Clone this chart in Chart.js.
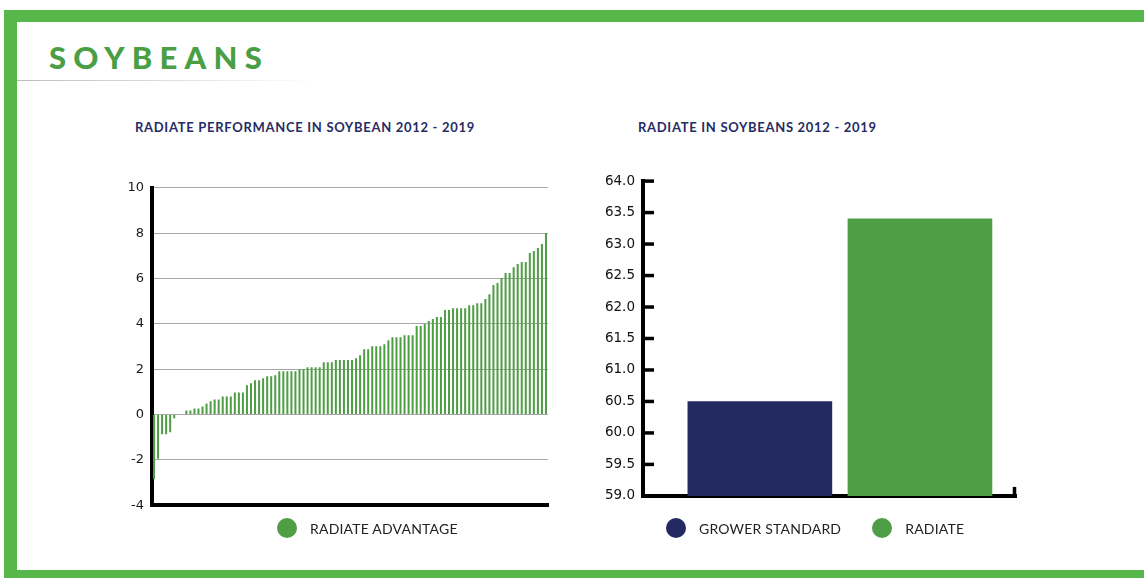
<!DOCTYPE html>
<html>
<head>
<meta charset="utf-8">
<script src="https://cdn.jsdelivr.net/npm/chart.js@4/dist/chart.umd.min.js"></script>
<style>
  html, body { margin: 0; padding: 0; background: #fff; }
  body { width: 1144px; height: 578px; position: relative; overflow: hidden; }
  .frame {
    position: absolute; left: 4px; top: 10px; width: 1127px; height: 548px;
    border-style: solid; border-color: #58b74b;
    border-width: 12px 2px 8px 13px;
  }
  .heading {
    position: absolute; left: 49px; top: 38px;
    font: 900 31px Lato, sans-serif; letter-spacing: 7.2px; color: #4a9f45;
  }
  .rule {
    position: absolute; left: 17px; top: 80px; width: 300px; height: 1px;
    background: linear-gradient(to right, #bdbdbd, rgba(255,255,255,0));
  }
  .title {
    position: absolute; font: bold 13px Lato, sans-serif; letter-spacing: 0.7px; color: #262c63;
  }
  .legend {
    position: absolute; top: 518px; display: flex; align-items: center;
    font: 14px Lato, sans-serif; letter-spacing: 0.2px; color: #222;
  }
  .legend .item { display: flex; align-items: center; margin-right: 31px; }
  .legend .dot { width: 20px; height: 20px; border-radius: 50%; margin-right: 13px; }
  canvas { position: absolute; }
</style>
</head>
<body>
<div class="frame"></div>
<div class="heading">SOYBEANS</div>
<div class="rule"></div>
<div class="title" style="left:135px; top:119px;">RADIATE PERFORMANCE IN SOYBEAN 2012 - 2019</div>
<div class="title" style="left:638px; top:119px;">RADIATE IN SOYBEANS 2012 - 2019</div>

<div style="position:absolute; left:100px; top:172px; width:460px; height:349px;">
  <canvas id="advantageChart"></canvas>
</div>
<div style="position:absolute; left:580px; top:165px; width:450px; height:347px;">
  <canvas id="averageChart"></canvas>
</div>
<div class="legend" id="advantageLegend" style="left:277px;"></div>
<div class="legend" id="averageLegend" style="left:666px;"></div>

<script>
// left chart: yield advantage per trial, sorted
const advantage = [
  -2.85, -1.95, -0.87, -0.87, -0.78, -0.16, 0, 0,
  0.18, 0.18, 0.27, 0.27, 0.35, 0.49, 0.58, 0.66, 0.66, 0.80, 0.80, 0.80, 0.97, 0.97, 0.97,
  1.29, 1.38, 1.51, 1.51, 1.60, 1.69, 1.69, 1.73, 1.91, 1.91, 1.91, 1.91, 1.91, 2.0, 2.0,
  2.09, 2.09, 2.09, 2.09, 2.31, 2.31, 2.31, 2.4, 2.4, 2.4,
  2.4, 2.4, 2.48, 2.61, 2.88, 2.88, 3.01, 3.01, 3.01, 3.10, 3.28, 3.41, 3.41, 3.41,
  3.50, 3.50, 3.50, 3.90, 3.90, 3.99, 4.12, 4.21, 4.30, 4.30, 4.61, 4.61,
  4.69, 4.69, 4.69, 4.69, 4.82, 4.82, 4.91, 4.91, 5.09, 5.31, 5.71, 5.80, 6.02,
  6.24, 6.24, 6.50, 6.64, 6.73, 6.73, 7.12, 7.21, 7.35, 7.52, 8.01
];
const advantageLabel = 'RADIATE ADVANTAGE';
const advantageColor = '#4f9e46';

// right chart: average yield
const treatments = ['GROWER STANDARD', 'RADIATE'];
const averages = [60.5, 63.4];
const treatmentColors = ['#222a61', '#4f9e46'];

function buildLegend(id, names, colors) {
  const box = document.getElementById(id);
  names.forEach(function (name, i) {
    const item = document.createElement('div');
    item.className = 'item';
    item.innerHTML = '<span class="dot" style="background:' + colors[i] + '"></span><span>' + name + '</span>';
    box.appendChild(item);
  });
}
buildLegend('advantageLegend', [advantageLabel], [advantageColor]);
buildLegend('averageLegend', treatments, treatmentColors);

// inside tick marks for the right chart
const insideTicks = {
  id: 'insideTicks',
  afterDraw(chart) {
    const ctx = chart.ctx;
    const y = chart.scales.y;
    const area = chart.chartArea;
    ctx.save();
    ctx.strokeStyle = '#000';
    ctx.lineWidth = 3.5;
    y.ticks.forEach(function (t) {
      const py = y.getPixelForValue(t.value);
      ctx.beginPath();
      ctx.moveTo(area.left, py);
      ctx.lineTo(area.left + 11, py);
      ctx.stroke();
    });
    ctx.beginPath();
    ctx.moveTo(area.right - 1.5, area.bottom);
    ctx.lineTo(area.right - 1.5, area.bottom - 9);
    ctx.stroke();
    ctx.restore();
  }
};

window.onload = function () {
  new Chart(document.getElementById('advantageChart'), {
    type: 'bar',
    data: {
      labels: advantage.map(function (_, i) { return i + 1; }),
      datasets: [{
        label: advantageLabel,
        data: advantage,
        backgroundColor: advantageColor,
        barPercentage: 0.5,
        categoryPercentage: 1.0
      }]
    },
    options: {
      responsive: true,
      maintainAspectRatio: false,
      animation: false,
      layout: { padding: { top: 14, right: 12, bottom: 2, left: 0 } },
      plugins: { legend: { display: false }, tooltip: { enabled: false } },
      scales: {
        x: {
          grid: { display: false },
          ticks: { display: false },
          border: { color: '#000', width: 4 },
          afterFit: function (scale) { scale.height = 0; }
        },
        y: {
          min: -4,
          max: 10,
          ticks: { stepSize: 2, color: '#1a1a1a', font: { family: 'DejaVu Sans', size: 13 }, padding: 8 },
          grid: { color: '#a8a8a8', lineWidth: 1, drawTicks: false },
          border: { color: '#000', width: 4 },
          afterFit: function (scale) { scale.width = 52; }
        }
      }
    }
  });

  new Chart(document.getElementById('averageChart'), {
    type: 'bar',
    data: {
      datasets: treatments.map(function (name, i) {
        return {
          label: name,
          data: [{ x: i + 1, y: averages[i] }],
          backgroundColor: treatmentColors[i],
          barThickness: 144,
          grouped: false
        };
      })
    },
    options: {
      responsive: true,
      maintainAspectRatio: false,
      animation: false,
      layout: { padding: { top: 15, right: 14, bottom: 2, left: 0 } },
      plugins: { legend: { display: false }, tooltip: { enabled: false } },
      scales: {
        x: {
          type: 'linear',
          offset: false,
          min: 0.27,
          max: 2.6,
          grid: { display: false },
          ticks: { display: false },
          border: { color: '#000', width: 4 },
          afterFit: function (scale) { scale.height = 0; }
        },
        y: {
          min: 59,
          max: 64,
          ticks: {
            stepSize: 0.5,
            color: '#111',
            font: { family: 'DejaVu Sans', size: 13.5 },
            padding: 8,
            callback: function (v) { return Number(v).toFixed(1); }
          },
          grid: { display: false, drawTicks: false },
          border: { color: '#000', width: 4 },
          afterFit: function (scale) { scale.width = 63; }
        }
      }
    },
    plugins: [insideTicks]
  });
};
</script>
</body>
</html>
